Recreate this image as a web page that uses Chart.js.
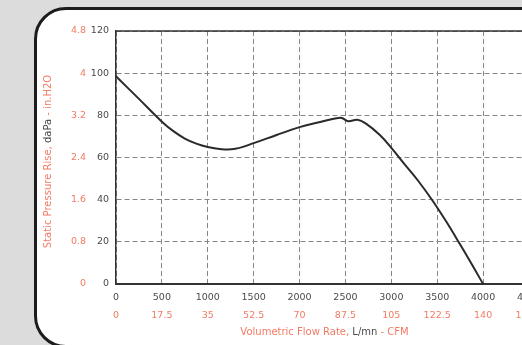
<!DOCTYPE html>
<html>
<head>
<meta charset="utf-8">
<script src="https://cdn.jsdelivr.net/npm/chart.js@4"></script>
<style>
  html, body { margin: 0; padding: 0; overflow: hidden; background: #dcdcdc; width: 522px; height: 345px; }
  #box {
    position: absolute; left: 34px; top: 7px; width: 560px; height: 341px;
    box-sizing: border-box; border: 3px solid #1c1c1c; border-radius: 32px; background: #fff;
  }
  #chart { position: absolute; left: 0; top: 0; }
</style>
</head>
<body>
<div id="box"></div>
<canvas id="chart" width="600" height="345"></canvas>
<script>
// fan curve
const flowLmn = [0, 250, 500, 625, 750, 875, 1000, 1150, 1300, 1500, 1750, 2000, 2200, 2400, 2460, 2530, 2630, 2720, 2875, 3000, 3150, 3300, 3450, 3600, 3750, 3875, 4000];
const pressureDaPa = [98.5, 87.8, 77, 72.5, 69, 66.6, 65, 63.9, 64.1, 66.8, 70.7, 74.4, 76.6, 78.6, 78.7, 77.2, 77.9, 76.2, 70.7, 64.6, 56.5, 48.5, 39.5, 29.5, 18.7, 9.5, 0];

// secondary tick labels
const cfmLabels = ['0', '17.5', '35', '52.5', '70', '87.5', '105', '122.5', '140', '157.5'];
const inH2OLabels = ['0', '0.8', '1.6', '2.4', '3.2', '4', '4.8'];

const ORANGE = '#f47a64';
const DARK = '#4a4a4a';
const FONT = '"DejaVu Sans", sans-serif';

// axis titles have mixed colours, so draw them by hand
function drawPieces(ctx, pieces, cx, cy) {
    let total = 0;
    pieces.forEach(p => { total += ctx.measureText(p[0]).width; });
    let x = cx - total / 2;
    pieces.forEach(p => {
        ctx.fillStyle = p[1];
        ctx.fillText(p[0], x, cy);
        x += ctx.measureText(p[0]).width;
    });
}

const titlesPlugin = {
    id: 'titles',
    afterDraw(chart) {
        const ctx = chart.ctx;
        const a = chart.chartArea;
        ctx.save();
        // top frame line
        ctx.strokeStyle = '#333';
        ctx.lineWidth = 1.5;
        ctx.beginPath();
        ctx.moveTo(a.left, a.top);
        ctx.lineTo(a.right, a.top);
        ctx.stroke();

        ctx.font = '10px ' + FONT;
        ctx.textAlign = 'left';
        ctx.textBaseline = 'middle';
        drawPieces(ctx, [['Volumetric Flow Rate, ', ORANGE], ['L/mn', DARK], [' - CFM', ORANGE]],
            (a.left + a.right) / 2 + 2, 332);

        ctx.translate(48, (a.top + a.bottom) / 2 + 4);
        ctx.rotate(-Math.PI / 2);
        drawPieces(ctx, [['Static Pressure Rise, ', ORANGE], ['daPa', DARK], [' - in.H2O', ORANGE]], 0, 0);
        ctx.restore();
    }
};

function noPad(scale) {
    scale.paddingLeft = 0;
    scale.paddingRight = 0;
    scale.paddingTop = 0;
    scale.paddingBottom = 0;
}

const gridStyle = { color: '#858585', lineWidth: 1, drawTicks: false, borderDash: [5, 3] };
const tickFont = { size: 9.5, family: FONT };

new Chart(document.getElementById('chart'), {
    type: 'line',
    data: {
        datasets: [{
            data: flowLmn.map((x, i) => ({ x: x, y: pressureDaPa[i] })),
            borderColor: '#2a2a2a',
            borderWidth: 2,
            pointRadius: 0,
            fill: false,
            tension: 0.4
        }]
    },
    options: {
        responsive: false,
        animation: false,
        layout: { padding: { left: 40, top: 31, right: 71, bottom: 23 } },
        plugins: { legend: { display: false }, tooltip: { enabled: false } },
        scales: {
            x: {
                type: 'linear', position: 'bottom', weight: 0,
                min: 0, max: 4500,
                grid: gridStyle,
                border: { display: true, color: '#333', width: 2, dash: [5, 3] },
                ticks: { stepSize: 500, color: DARK, padding: 8, font: tickFont,
                    callback: v => String(v) },
                afterFit: s => { s.height = 22; noPad(s); }
            },
            xCfm: {
                type: 'linear', position: 'bottom', weight: 1,
                min: 0, max: 4500,
                grid: { display: false, drawTicks: false },
                border: { display: false },
                ticks: { stepSize: 500, color: ORANGE, padding: 4, font: tickFont,
                    callback: (v, i) => cfmLabels[i] },
                afterFit: s => { s.height = 16; noPad(s); }
            },
            y: {
                type: 'linear', position: 'left', weight: 0,
                min: 0, max: 120,
                grid: gridStyle,
                border: { display: true, color: '#333', width: 1.5, dash: [5, 3] },
                ticks: { stepSize: 20, color: DARK, padding: 7, font: tickFont },
                afterFit: s => { s.width = 26; noPad(s); }
            },
            yH2O: {
                type: 'linear', position: 'left', weight: 1,
                min: 0, max: 120,
                grid: { display: false, drawTicks: false },
                border: { display: false },
                ticks: { stepSize: 20, color: ORANGE, padding: 4, font: tickFont,
                    callback: (v, i) => inH2OLabels[i] },
                afterFit: s => { s.width = 50; noPad(s); }
            }
        }
    },
    plugins: [titlesPlugin]
});
</script>
</body>
</html>
